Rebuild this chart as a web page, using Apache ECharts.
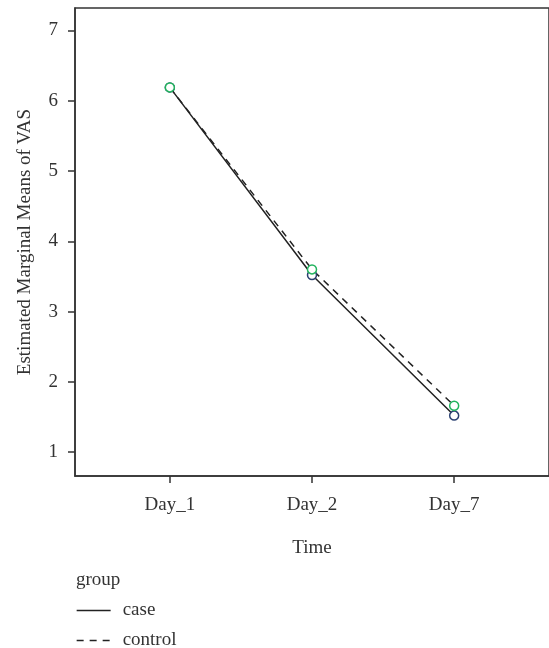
<!DOCTYPE html>
<html>
<head>
<meta charset="utf-8">
<script src="https://cdn.jsdelivr.net/npm/echarts@6/dist/echarts.min.js"></script>
<style>
  html, body { margin: 0; padding: 0; background: #fff; }
  #chart { width: 549px; height: 648px; }
</style>
</head>
<body>
<div id="chart"></div>
<script>
// estimated marginal means
const timePoints = ["Day_1", "Day_2", "Day_7"];
const caseMeans = [6.19, 3.52, 1.52];
const controlMeans = [6.19, 3.6, 1.66];
const yTicks = [1, 2, 3, 4, 5, 6, 7];

const serif = "Liberation Serif";
const ink = "#333";

var chart = echarts.init(document.getElementById("chart"));

function toPoints(values) {
  return values.map((v, i) => [i, v]);
}

var option = {
  animation: false,
  title: {
    text: "group",
    left: 71,
    top: 566,
    textStyle: { fontFamily: serif, fontSize: 19, fontWeight: "normal", color: ink },
  },
  legend: {
    orient: "vertical",
    left: 76,
    top: 601,
    height: 80,
    padding: 0,
    itemWidth: 34,
    itemHeight: 18,
    itemGap: 11,
    data: ["case", "control"],
    itemStyle: { opacity: 0 },
    lineStyle: { width: 1.3 },
    textStyle: { fontFamily: serif, fontSize: 19, color: ink, padding: [0, 0, 0, 7] },
  },
  grid: {
    left: 75,
    top: 8,
    right: -2.5,
    bottom: 172,
    containLabel: false,
    show: true,
    borderColor: ink,
    borderWidth: 1.5,
  },
  xAxis: {
    type: "value",
    min: -0.667,
    max: 2.667,
    name: "Time",
    nameLocation: "middle",
    nameGap: 63,
    nameTextStyle: { fontFamily: serif, fontSize: 19, color: ink },
    axisLine: { onZero: false, lineStyle: { color: ink, width: 1.5 } },
    axisTick: { length: 7, customValues: [0, 1, 2], lineStyle: { color: ink, width: 1.5 } },
    axisLabel: {
      customValues: [0, 1, 2],
      margin: 20,
      fontFamily: serif,
      fontSize: 19,
      color: ink,
      formatter: (v) => timePoints[Math.round(v)],
    },
    splitLine: { show: false },
  },
  yAxis: {
    type: "value",
    min: 0.66,
    max: 7.32,
    name: "Estimated Marginal Means of VAS",
    nameLocation: "middle",
    nameGap: 40,
    nameTextStyle: { fontFamily: serif, fontSize: 19, color: ink },
    axisLine: { show: true, onZero: false, lineStyle: { color: ink, width: 1.5 } },
    axisTick: { show: true, length: 7, customValues: yTicks, lineStyle: { color: ink, width: 1.5 } },
    axisLabel: { customValues: yTicks, margin: 17, fontFamily: serif, fontSize: 19, color: ink },
    splitLine: { show: false },
  },
  series: [
    {
      name: "case",
      type: "line",
      data: toPoints(caseMeans),
      symbol: "circle",
      symbolSize: 9,
      itemStyle: { color: "#fff", borderColor: "#2c4272", borderWidth: 1.5 },
      lineStyle: { color: "#222", width: 1.5 },
    },
    {
      name: "control",
      type: "line",
      data: toPoints(controlMeans),
      symbol: "circle",
      symbolSize: 9,
      itemStyle: { color: "#fff", borderColor: "#22b35e", borderWidth: 1.5 },
      lineStyle: { color: "#222", width: 1.5, type: [7, 6] },
    },
  ],
};

chart.setOption(option);
</script>
</body>
</html>
